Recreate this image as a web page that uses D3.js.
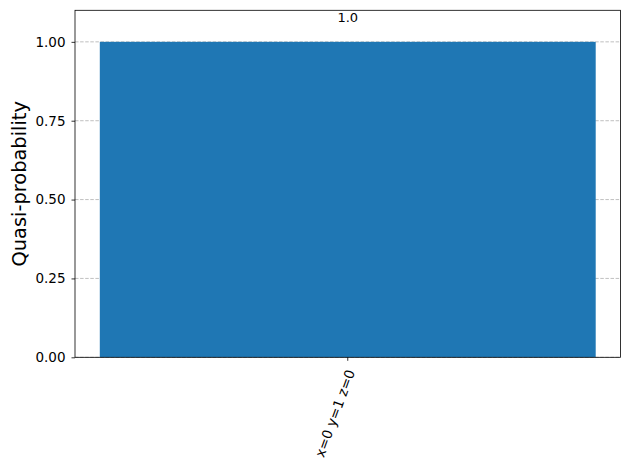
<!DOCTYPE html>
<html lang="en">
<head>
  <meta charset="UTF-8">
  <title>Quasi-probability</title>
  <style>
    body { margin: 0; background: #fff; }
    svg { display: block; font-family: "DejaVu Sans", sans-serif; }
  </style>
</head>
<body>
  <div id="chart"></div>
  <script src="https://d3js.org/d3.v7.min.js"></script>
  <script>
const labels = ['x=0 y=1 z=0']
const values = [1.0]
const yTicks = [0, 0.25, 0.5, 0.75, 1.0]
const barLabels = ['1.0']

const margin = {top: 10.3, right: 9.5, bottom: 112.7, left: 75}
const width = 630 - margin.left - margin.right
const height = 470 - margin.top - margin.bottom

const svg = d3.select('#chart')
  .append('svg')
    .attr('width', 630)
    .attr('height', 470)
  .append('g')
    .attr('transform', `translate(${margin.left},${margin.top})`)

const xscale = d3.scaleBand()
  .domain(labels)
  .range([0, width])
  .paddingInner(0)
  .paddingOuter(0.05)

const yscale = d3.scaleLinear()
  .domain([0, 1.1])
  .range([height, 0])

// grid lines behind bars
svg.append('g')
  .selectAll('line')
  .data(yTicks)
  .enter()
  .append('line')
    .attr('x1', 0)
    .attr('x2', width)
    .attr('y1', d => yscale(d))
    .attr('y2', d => yscale(d))
    .style('stroke', '#b0b0b0')
    .style('stroke-width', 0.8)
    .style('stroke-dasharray', '3.5,1.6')

svg.append('g')
  .selectAll('rect')
  .data(values)
  .enter()
  .append('rect')
    .attr('x', (d, i) => xscale(labels[i]))
    .attr('y', d => yscale(d))
    .attr('width', xscale.bandwidth())
    .attr('height', d => height - yscale(d))
    .style('fill', '#1f77b4')

svg.append('g')
  .selectAll('text')
  .data(values)
  .enter()
  .append('text')
    .attr('x', (d, i) => xscale(labels[i]) + xscale.bandwidth() / 2)
    .attr('y', d => yscale(d) - 20)
    .attr('text-anchor', 'middle')
    .style('font-size', '13px')
    .text((d, i) => barLabels[i])

// axes
const leftAxis = d3.axisLeft(yscale)
  .tickValues(yTicks)
  .tickFormat(d3.format('.2f'))
  .tickSize(3.5)
  .tickPadding(6)

const yAxis = svg.append('g').call(leftAxis)
yAxis.select('.domain').remove()
yAxis.selectAll('line').style('stroke', '#000').style('stroke-width', 0.8)
yAxis.selectAll('text')
  .style('font-size', '13.5px')
  .style('font-family', '"DejaVu Sans", sans-serif')
  .style('fill', '#000')

const bottomAxis = d3.axisBottom(xscale)
  .tickSize(3.5)
  .tickPadding(0)

const xAxis = svg.append('g')
  .attr('transform', `translate(0,${height})`)
  .call(bottomAxis)
xAxis.select('.domain').remove()
xAxis.selectAll('line').style('stroke', '#000').style('stroke-width', 0.8)
xAxis.selectAll('text')
  .attr('y', 0)
  .attr('dy', null)
  .attr('text-anchor', 'middle')
  .attr('dominant-baseline', 'central')
  .attr('transform', 'translate(-13,56) rotate(-70)')
  .style('font-size', '13.6px')
  .style('font-family', '"DejaVu Sans", sans-serif')
  .style('fill', '#000')

// frame
svg.append('rect')
  .attr('width', width)
  .attr('height', height)
  .style('fill', 'none')
  .style('stroke', '#000')
  .style('stroke-width', 0.8)

svg.append('text')
  .attr('transform', `translate(${26 - margin.left},${height / 2}) rotate(-90)`)
  .attr('text-anchor', 'middle')
  .style('font-size', '19.4px')
  .text('Quasi-probability')
  </script>
</body>
</html>
